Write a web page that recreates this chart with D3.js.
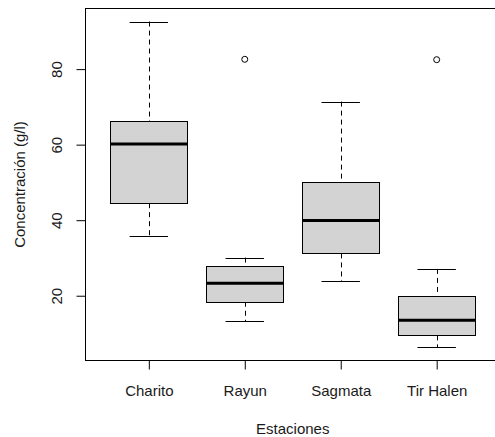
<!DOCTYPE html>
<html>
<head>
<meta charset="utf-8">
<script src="https://cdn.jsdelivr.net/npm/d3@7"></script>
<style>
  body { margin: 0; background: #fff; }
  text { font-family: "Liberation Sans", Arial, sans-serif; font-size: 15px; fill: #1a1a1a; }
</style>
</head>
<body>
<script>
var width = 495,
    height = 437;

// boxplot statistics
var stations     = ['Charito', 'Rayun', 'Sagmata', 'Tir Halen'];
var lowWhisker   = [35.8, 13.3, 23.9, 6.3];
var q1           = [44.5, 18.4, 31.2, 9.5];
var medians      = [60.2, 23.3, 39.9, 13.5];
var q3           = [66.2, 27.8, 50.0, 20.0];
var highWhisker  = [92.6, 30.1, 71.4, 27.1];
var outliers     = [[], [82.6], [], [82.5]];
var yTicks       = [20, 40, 60, 80];

var plot = { left: 85.5, top: 8.5, right: 500, bottom: 360.5 };

// R style: extend data range by 4% each side
var lo = d3.min(lowWhisker), hi = d3.max(highWhisker.concat(d3.merge(outliers)));
var pad = (hi - lo) * 0.04;

var y = d3.scaleLinear()
    .domain([lo - pad, hi + pad])
    .range([plot.bottom, plot.top]);

var x = d3.scaleLinear()
    .domain([0.34, stations.length + 0.66])
    .range([plot.left, plot.right]);

var boxW = x(1.4) - x(1);   // half box width (0.8 total)

var svg = d3.select('body')
  .append('svg')
    .attr('xmlns', 'http://www.w3.org/2000/svg')
    .attr('width', width)
    .attr('height', height);

var rows = stations.map(function(s, i) {
  return { name: s, pos: i + 1, lo: lowWhisker[i], q1: q1[i], med: medians[i],
           q3: q3[i], hi: highWhisker[i], out: outliers[i] };
});

var g = svg.selectAll('g.box').data(rows).enter()
  .append('g').attr('class', 'box');

// whiskers (dashed)
g.append('line')
    .attr('x1', d => Math.round(x(d.pos)) + 0.5).attr('x2', d => Math.round(x(d.pos)) + 0.5)
    .attr('y1', d => y(d.hi)).attr('y2', d => y(d.q3))
    .attr('stroke', '#000').attr('stroke-dasharray', '5,4');
g.append('line')
    .attr('x1', d => Math.round(x(d.pos)) + 0.5).attr('x2', d => Math.round(x(d.pos)) + 0.5)
    .attr('y1', d => y(d.q1)).attr('y2', d => y(d.lo))
    .attr('stroke', '#000').attr('stroke-dasharray', '5,4');

// staples
['hi', 'lo'].forEach(function(k) {
  g.append('line')
      .attr('x1', d => x(d.pos) - boxW / 2).attr('x2', d => x(d.pos) + boxW / 2)
      .attr('y1', d => Math.round(y(d[k])) + 0.5).attr('y2', d => Math.round(y(d[k])) + 0.5)
      .attr('stroke', '#000');
});

// boxes
g.append('rect')
    .attr('x', d => Math.round(x(d.pos) - boxW) + 0.5)
    .attr('y', d => Math.round(y(d.q3)) + 0.5)
    .attr('width', Math.round(boxW * 2))
    .attr('height', d => Math.round(y(d.q1)) - Math.round(y(d.q3)))
    .attr('fill', '#d3d3d3')
    .attr('stroke', '#000');

// medians
g.append('line')
    .attr('x1', d => x(d.pos) - boxW).attr('x2', d => x(d.pos) + boxW)
    .attr('y1', d => y(d.med)).attr('y2', d => y(d.med))
    .attr('stroke', '#000').attr('stroke-width', 3);

// outliers
g.selectAll('circle').data(d => d.out.map(v => ({ pos: d.pos, v: v }))).enter()
  .append('circle')
    .attr('cx', d => x(d.pos)).attr('cy', d => y(d.v))
    .attr('r', 3)
    .attr('fill', 'none').attr('stroke', '#000');

// frame
svg.append('rect')
    .attr('x', plot.left).attr('y', plot.top)
    .attr('width', plot.right - plot.left).attr('height', plot.bottom - plot.top)
    .attr('fill', 'none').attr('stroke', '#000');

// y axis
var yAxis = svg.append('g')
    .attr('transform', 'translate(' + plot.left + ',0)')
    .call(d3.axisLeft(y).tickValues(yTicks).tickSize(9));
yAxis.select('.domain').remove();
yAxis.selectAll('line').attr('stroke', '#000');
yAxis.selectAll('text')
    .attr('x', 0).attr('dy', 0)
    .attr('text-anchor', 'middle')
    .attr('transform', 'translate(-24,0) rotate(-90)')
    .style('font-family', null).style('font-size', null)
    .attr('font-family', null).attr('font-size', null);

// x axis
var xAxis = svg.append('g')
    .attr('transform', 'translate(0,' + plot.bottom + ')')
    .call(d3.axisBottom(x).tickValues(rows.map(d => d.pos)).tickSize(9)
      .tickFormat(i => stations[i - 1]));
xAxis.select('.domain').remove();
xAxis.selectAll('line').attr('stroke', '#000');
xAxis.selectAll('text')
    .attr('y', 35.5).attr('dy', 0)
    .attr('font-family', null).attr('font-size', null);
svg.selectAll('.tick text').attr('fill', null);
svg.selectAll('g').filter(function() { return this.hasAttribute('font-family'); })
    .attr('font-family', null).attr('font-size', null);

// axis titles
svg.append('text')
    .attr('x', (plot.left + plot.right) / 2).attr('y', 434)
    .attr('text-anchor', 'middle')
    .text('Estaciones');

svg.append('text')
    .attr('transform', 'translate(25,' + (plot.top + plot.bottom) / 2 + ') rotate(-90)')
    .attr('text-anchor', 'middle')
    .text('Concentración (g/l)');
</script>
</body>
</html>
